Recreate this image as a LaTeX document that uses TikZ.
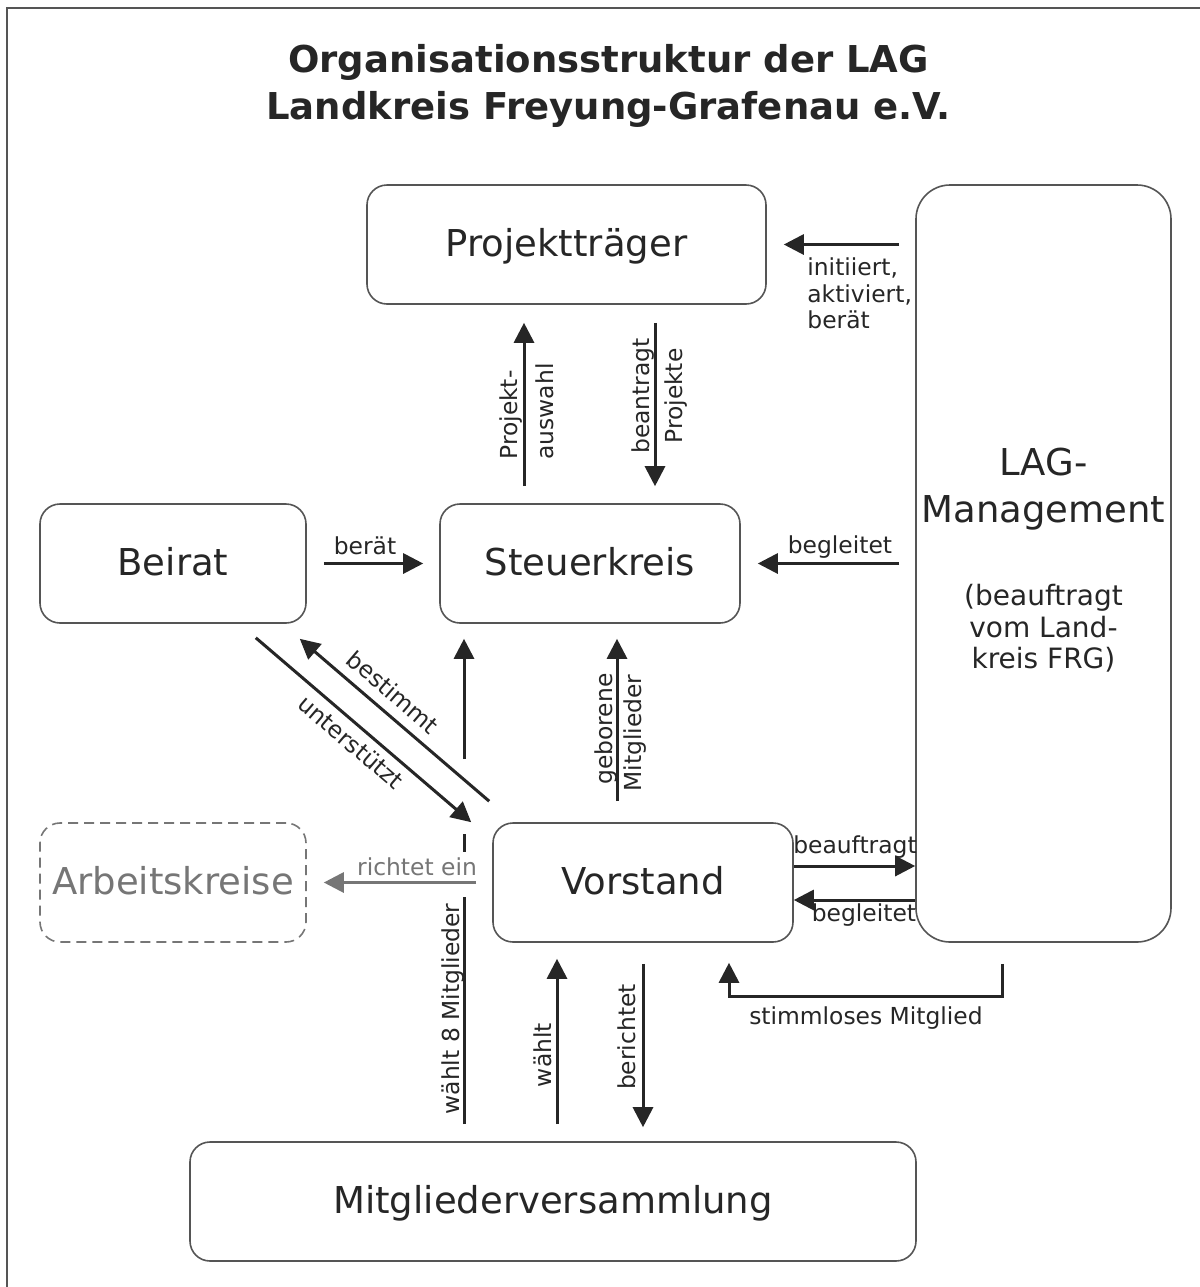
\documentclass[tikz,border=0pt]{standalone}
\usepackage{fontspec}
\setmainfont{DejaVu Sans}
\usetikzlibrary{arrows.meta,calc}
\definecolor{ink}{HTML}{262626}
\definecolor{edge}{HTML}{555555}
\definecolor{soft}{HTML}{767676}
\begin{document}
\begin{tikzpicture}[x=0.5pt,y=-0.5pt,
  box/.style={draw=edge, line width=0.8pt, rounded corners=10pt, inner sep=0pt,
    text=ink, font=\fontsize{18.5}{22}\selectfont, text height=1.2em, text depth=0pt,
    minimum height=59.5pt},
  lbl/.style={text=ink, font=\fontsize{11.7}{13.3}\selectfont, inner sep=0pt},
  arr/.style={draw=ink, line width=1.5pt, -{Triangle[length=10pt,width=10pt]}},
  plain/.style={draw=ink, line width=1.5pt}]
\useasboundingbox (0,0) rectangle (1200,1287);
\fill[white] (0,0) rectangle (1200,1287);
\draw[edge, line width=1pt] (7,1287) -- (7,8) -- (1200,8);

% title
\node[text=ink, font=\fontsize{18.5}{23.5}\bfseries\selectfont, align=center, inner sep=0pt, anchor=north]
  (title) at (608.5,44) {Organisationsstruktur der LAG\\Landkreis Freyung-Grafenau e.V.};

% boxes
\node[box, minimum width=199.5pt] (P) at (566.5,244.5) {Projektträger};
\node[box, minimum width=127.5pt, minimum height=378.5pt, rounded corners=17pt] (L) at (1043.5,563.5) {};
\node[box, minimum width=133pt] (B) at (173,563.5) {Beirat};
\node[box, minimum width=150pt] (S) at (590,563.5) {Steuerkreis};
\node[box, draw=soft, text=soft, dash pattern=on 5pt off 3pt, minimum width=133pt] (A) at (173,882.5) {Arbeitskreise};
\node[box, minimum width=150pt] (V) at (643,882.5) {Vorstand};
\node[box, minimum width=363pt] (M) at (553,1201.5) {Mitgliederversammlung};

% LAG texts
\node[text=ink, font=\fontsize{18.5}{23.5}\selectfont, align=center, inner sep=0pt, anchor=north]
  (LT1) at (1043.5,448) {LAG-\\Management};
\node[text=ink, font=\fontsize{14}{15.75}\selectfont, align=center, inner sep=0pt, anchor=north]
  (LT2) at (1043.5,584) {(beauftragt\\vom Land-\\kreis FRG)};

% helper x positions
\coordinate (xa) at (524,0);
\coordinate (xb) at (655,0);
\coordinate (xg) at (617,0);
\coordinate (xw) at (464,0);
\coordinate (xv) at (557,0);
\coordinate (xr) at (643,0);

% connectors
\draw[arr, shorten <=8pt, shorten >=8.5pt] (L.west |- P.east) -- (P.east);
\draw[arr, shorten <=8.5pt, shorten >=8pt] (B.east) -- (S.west);
\draw[arr, shorten <=8pt, shorten >=8.5pt] (L.west |- S.east) -- (S.east);
\draw[arr, shorten <=8.5pt, shorten >=9pt] (S.north -| xa) -- (P.south -| xa);
\draw[arr, shorten <=9pt, shorten >=8.5pt] (P.south -| xb) -- (S.north -| xb);
\draw[arr, shorten <=10.5pt, shorten >=7.5pt] (V.north -| xg) -- (S.south -| xg);

% waehlt 8 Mitglieder line (with gaps)
\draw[plain, shorten <=8.5pt, shorten >=7.25pt] (M.north -| xw) -- (V.west -| xw);
\draw[plain] ($(V.north -| xw)+(0,12)$) -- ($(V.north -| xw)+(0,30)$);
\draw[arr, shorten >=7.5pt] ($(V.north -| xw)+(0,-63)$) -- (S.south -| xw);

\draw[arr, draw=soft, shorten <=8pt, shorten >=8.5pt] (V.west) -- (A.east);

\draw[arr] ($(B.south east)+(-51,14)$) -- ($(V.north west)+(-21,0)$);
\draw[arr] ($(V.north west)+(-3,-21)$) -- ($(B.south east)+(-7,15)$);

\draw[arr, shorten <=8.5pt, shorten >=8pt] (M.north -| xv) -- (V.south -| xv);
\draw[arr, shorten <=10.5pt, shorten >=7pt] (V.south -| xr) -- (M.north -| xr);

\coordinate (bq) at ($(V.east)+(0,-16.5)$);
\coordinate (bl) at ($(V.east)+(0,17.5)$);
\draw[arr] (bq) -- (bq -| L.west);
\draw[arr] (bl -| L.west) -- (bl);

\coordinate (s0) at ($(L.south)+(-41.5,21)$);
\coordinate (s3) at ($(V.south)+(86,20)$);
\draw[arr] (s0) -- ++(0,33) -| (s3);

% labels
\node[lbl, align=left, anchor=north west] (l1) at (807,257.5) {initiiert,\\aktiviert,\\berät};
\node[lbl, anchor=base] (l2) at (365,554) {berät};
\node[lbl, anchor=base] (l3) at (840,553) {begleitet};
\node[lbl, anchor=base] (l4) at (855,853) {beauftragt};
\node[lbl, anchor=base] (l5) at (864,921) {begleitet};
\node[lbl, anchor=base] (l6) at (866,1024) {stimmloses Mitglied};
\node[lbl, anchor=base, text=soft] (l7) at (417,875) {richtet ein};
\node[lbl, rotate=-40.6] (l8) at (393,692) {bestimmt};
\node[lbl, rotate=-40.6] (l9) at (351,742) {unterstützt};
\node[lbl, rotate=90, anchor=base west] (l10) at (517,460) {Projekt-};
\node[lbl, rotate=90, anchor=base west] (l11) at (553,460) {auswahl};
\node[lbl, rotate=90, anchor=base] (l12) at (649,396) {beantragt};
\node[lbl, rotate=90, anchor=base] (l13) at (682,396) {Projekte};
\node[lbl, rotate=90, anchor=base] (l14) at (612,729) {geborene};
\node[lbl, rotate=90, anchor=base] (l15) at (641,733) {Mitglieder};
\node[lbl, rotate=90, anchor=base] (l16) at (459,1009) {wählt 8 Mitglieder};
\node[lbl, rotate=90, anchor=base] (l17) at (551,1055) {wählt};
\node[lbl, rotate=90, anchor=base] (l18) at (635,1037) {berichtet};
\end{tikzpicture}
\end{document}
